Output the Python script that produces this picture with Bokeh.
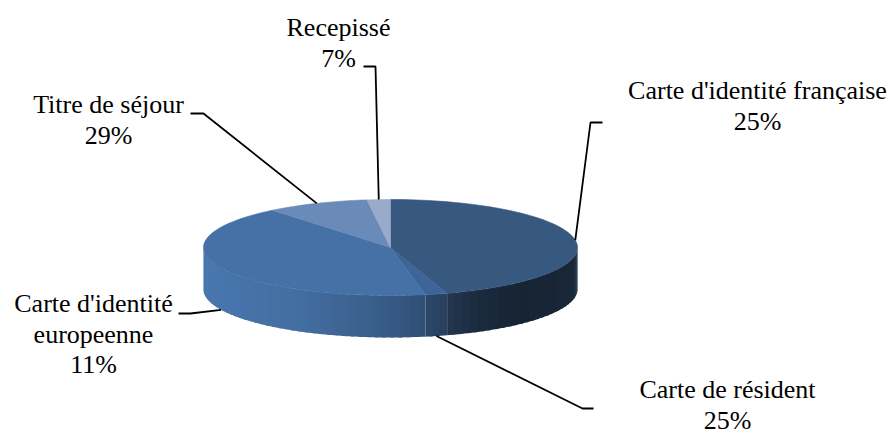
import numpy as np
from bokeh.plotting import figure
from bokeh.models import Range1d, Label
from bokeh.embed import file_html
from bokeh.resources import INLINE

# ---- data ----
categories = ["Carte d'identité française", "Carte de résident",
              "Carte d'identité\neuropeenne", "Titre de séjour", "Recepissé"]
slice_shares = [45.1, 1.9, 42.1, 8.9, 2.0]          # angular share of each drawn slice (%)
label_percents = ["25%", "25%", "11%", "29%", "7%"]   # percentages printed in the labels
colors = ["#37587F", "#3E6597", "#4571A6", "#6A8AB8", "#99ABCA"]

# ---- layout ----
W, H = 893, 434
CX, CY, RX, RY, DEPTH = 390, 247, 187, 48, 42
# (centre x, baseline of first line)
label_pos = [(757, 99), (727, 398), (93, 312), (108, 113), (338, 36)]
elbows = [((602, 122), (590, 122)), ((593, 408), (582, 408)), ((178, 313), (190, 313)),
          ((190, 113), (203, 113)), ((363, 66), (375, 66))]
LINE_H = 30.5
MID_OFF = 9   # distance from baseline up to the 'middle' anchor
FONT = "Liberation Serif"

shade_x = [203, 300, 380, 425, 450, 480, 520, 560, 577]
shade_f = [1.05, 0.97, 0.82, 0.70, 0.62, 0.48, 0.41, 0.43, 0.47]


def scale_hex(h, f):
    r, g, b = int(h[1:3], 16), int(h[3:5], 16), int(h[5:7], 16)
    c = [max(0, min(255, int(round(v * f)))) for v in (r, g, b)]
    return "#%02x%02x%02x" % tuple(c)


def top_pt(t):
    return float(CX + RX * np.sin(t)), float(CY - RY * np.cos(t))


p = figure(width=W, height=H, x_range=Range1d(0, W), y_range=Range1d(H, 0),
           output_backend="svg", toolbar_location=None, min_border=0)
p.axis.visible = False
p.grid.visible = False
p.outline_line_color = None

shares = np.array(slice_shares, dtype=float)
edges = np.concatenate([[0], np.cumsum(shares)]) / shares.sum() * 2 * np.pi

# ---- side (front half only) ----
sx, sy, sc = [], [], []
step = np.radians(2.5)
for i, col in enumerate(colors):
    lo = max(edges[i], np.pi / 2)
    hi = min(edges[i + 1], 3 * np.pi / 2)
    if hi <= lo:
        continue
    n = max(1, int(np.ceil((hi - lo) / step)))
    ts = np.linspace(lo, hi, n + 1)
    for u, v in zip(ts[:-1], ts[1:]):
        v2 = min(v + step * 0.4, hi)
        pts = [top_pt(a) for a in np.linspace(u, v2, 4)]
        xs_ = [q[0] for q in pts]
        ys_ = [q[1] for q in pts]
        sx.append(xs_ + xs_[::-1])
        sy.append(ys_ + [y + DEPTH for y in ys_[::-1]])
        xm = top_pt((u + v) / 2)[0]
        sc.append(scale_hex(col, float(np.interp(xm, shade_x, shade_f))))
p.patches(sx, sy, fill_color=sc, line_color=None)

# ---- top face ----
tx, ty = [], []
for i in range(len(colors)):
    n = max(3, int(np.degrees(edges[i + 1] - edges[i]) / 2))
    ts = np.linspace(edges[i], edges[i + 1], n + 1)
    pts = [top_pt(t) for t in ts]
    tx.append([CX] + [q[0] for q in pts])
    ty.append([CY] + [q[1] for q in pts])
p.patches(tx, ty, fill_color=colors, line_color=colors, line_width=0.6)

# ---- leader lines ----
lx, ly = [], []
for i in range(len(colors)):
    m = (edges[i] + edges[i + 1]) / 2
    ax, ay = top_pt(m)
    if np.pi / 2 < m < 3 * np.pi / 2:
        ay += DEPTH
    (e0x, e0y), (e1x, e1y) = elbows[i]
    lx.append([e0x, e1x, ax])
    ly.append([e0y, e1y, ay])
p.multi_line(lx, ly, line_color="black", line_width=1.8)

# ---- labels ----
for i, name in enumerate(categories):
    lines = name.split("\n") + [label_percents[i]]
    cx, by = label_pos[i]
    for k, line in enumerate(lines):
        p.add_layout(Label(x=cx, y=by + k * LINE_H - MID_OFF, text=line,
                           text_font=FONT, text_font_size="26px", text_color="black",
                           text_align="center", text_baseline="middle"))

open("out.html", "w").write(file_html(p, INLINE))
